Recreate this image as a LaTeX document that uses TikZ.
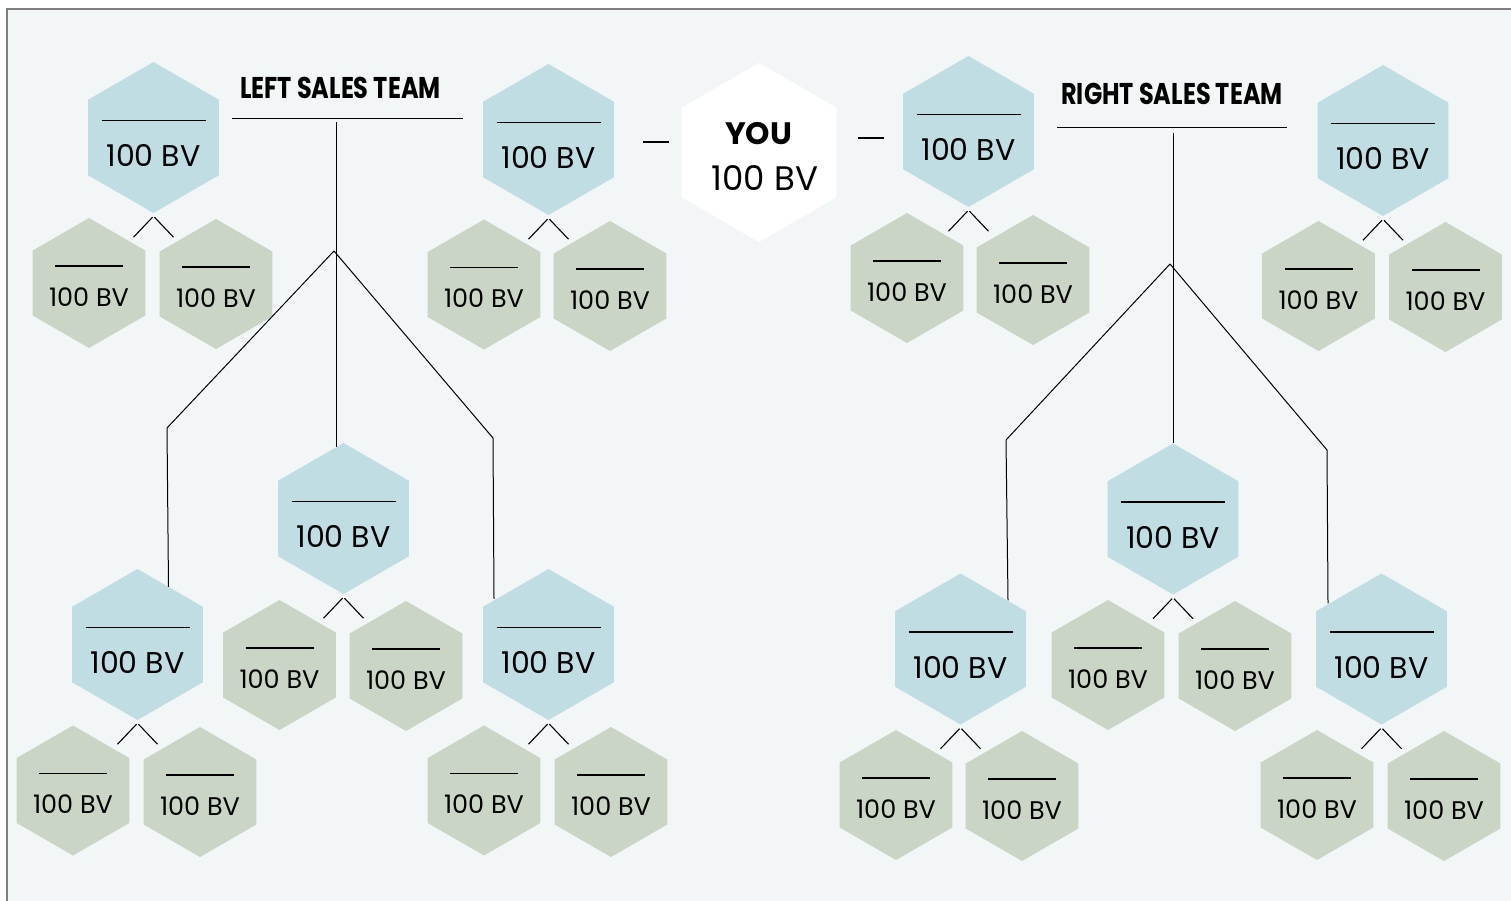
\documentclass[tikz,border=0pt]{standalone}
\usepackage{fontspec}
\setmainfont{Poppins}
\usetikzlibrary{shapes.geometric,calc}
\definecolor{bg}{HTML}{F2F6F7}
\definecolor{hexblue}{HTML}{C0DDE3}
\definecolor{hexgreen}{HTML}{CAD5C5}
\definecolor{framegray}{HTML}{7F7F7F}
\tikzset{
  hexbase/.style={regular polygon, regular polygon sides=6, shape border rotate=30, inner sep=0pt, draw=none},
  bluehex/.style={hexbase, fill=hexblue, minimum size=151pt},
  greenhex/.style={hexbase, fill=hexgreen, minimum size=130pt},
  youhex/.style={hexbase, fill=white, minimum size=179pt},
  bluetxt/.style={inner sep=0pt, font=\fontsize{30}{32}\selectfont},
  greentxt/.style={inner sep=0pt, font=\fontsize{25.5}{27}\selectfont},
  youtxt/.style={inner sep=0pt, font=\fontsize{34}{36}\selectfont},
  youbold/.style={inner sep=0pt, font=\fontsize{31}{32}\selectfont\bfseries},
  teamtxt/.style={inner sep=0pt, font=\fontsize{30}{32}\selectfont\bfseries},
  blank/.style={line width=1.2pt},
  conn/.style={line width=1.1pt},
  tree/.style={line width=1pt}
}
\newcommand\BlueHex[3]{%
  \node[bluehex] (#1) at (#2,#3) {};
  \draw[blank] ($(#1.center)+(-52,-17)$) -- ++(104,0);
  \node[bluetxt] (#1t) at ($(#1.center)+(0,18)$) {100 BV};
  \draw[conn] ($(#1.south)+(-1,4)$) -- ++(-19,20);
  \draw[conn] ($(#1.south)+(1,4)$) -- ++(19,20);
}
\newcommand\GreenHex[3]{%
  \node[greenhex] (#1) at (#2,#3) {};
  \draw[blank] ($(#1.center)+(-34,-17)$) -- ++(68,0);
  \node[greentxt] (#1t) at ($(#1.center)+(0,14)$) {100 BV};
}
\begin{document}
\begin{tikzpicture}[x=1pt,y=-1pt]
\useasboundingbox (0,0) rectangle (1511,901);
\fill[white] (0,0) rectangle (1511,901);
\fill[bg] (7,9) rectangle (1511,901);
\draw[framegray, line width=2.5pt] (7.2,901) -- (7.2,9.2) -- (1511,9.2);

% YOU
\node[youhex] (you) at (759,152.5) {};
\node[youbold] (yout) at (758.5,134) {YOU};
\node[youtxt] (youbv) at (765,178) {100 BV};
\coordinate (dl1) at (643,142); \coordinate (dl2) at (669,142);
\coordinate (dr1) at (858,138); \coordinate (dr2) at (884,138);
\draw[conn] (dl1) -- (dl2);
\draw[conn] (dr1) -- (dr2);

% blue hexagons
\BlueHex{b1}{153.5}{137.5}
\BlueHex{b2}{548.5}{139.5}
\BlueHex{b3}{968.5}{131.5}
\BlueHex{b4}{1383}{140.5}
\BlueHex{b5}{343.5}{518.5}
\BlueHex{b6}{137.5}{644.5}
\BlueHex{b7}{548.5}{644.5}
\BlueHex{b8}{1173}{519}
\BlueHex{b9}{960.5}{649}
\BlueHex{b10}{1381.5}{649}

% green hexagons
\GreenHex{g1a}{89}{283}    \GreenHex{g1b}{216}{284}
\GreenHex{g2a}{484}{284.5} \GreenHex{g2b}{610}{286}
\GreenHex{g3a}{907}{278}   \GreenHex{g3b}{1033}{280}
\GreenHex{g4a}{1318.5}{286} \GreenHex{g4b}{1445.5}{287}
\GreenHex{g5a}{279.5}{665} \GreenHex{g5b}{406}{666}
\GreenHex{g6a}{73}{790.5}  \GreenHex{g6b}{200}{792}
\GreenHex{g7a}{484}{790.5} \GreenHex{g7b}{611}{792}
\GreenHex{g8a}{1108}{665}  \GreenHex{g8b}{1235}{666}
\GreenHex{g9a}{896}{795}   \GreenHex{g9b}{1022}{796}
\GreenHex{g10a}{1317}{795} \GreenHex{g10b}{1444}{796}

% team titles
\node[teamtxt] (lt) at (340.5,87.5) {\scalebox{0.8}[1]{LEFT SALES TEAM}};
\node[teamtxt] (rt) at (1172,93.5) {\scalebox{0.8}[1]{RIGHT SALES TEAM}};
\coordinate (lu1) at (232,119); \coordinate (lu2) at (463,119);
\coordinate (ru1) at (1057,128); \coordinate (ru2) at (1287,128);
\draw[tree] (lu1) -- (lu2);
\draw[tree] (ru1) -- (ru2);

% left tree
\coordinate (ltop) at (336,122);
\coordinate (lsplit) at (334,251);
\coordinate (lbl) at (167,428);
\coordinate (lbr) at (493,438);
\draw[tree] (ltop) -- ($(b5.north)+(-7.5,4)$);
\draw[tree] (lsplit) -- (lbl) -- ($(b6.north)+(31,18)$);
\draw[tree] (lsplit) -- (lbr) -- ($(b7.north)+(-54.5,30)$);

% right tree
\coordinate (rtop) at (1173,133);
\coordinate (rsplit) at (1170,264);
\coordinate (rbl) at (1006,440);
\coordinate (rbr) at (1327,450);
\draw[tree] (rtop) -- (b8.north);
\draw[tree] (rsplit) -- (rbl) -- ($(b9.north)+(47.5,27)$);
\draw[tree] (rsplit) -- (rbr) -- ($(b10.north)+(-53.5,30)$);
\end{tikzpicture}
\end{document}
